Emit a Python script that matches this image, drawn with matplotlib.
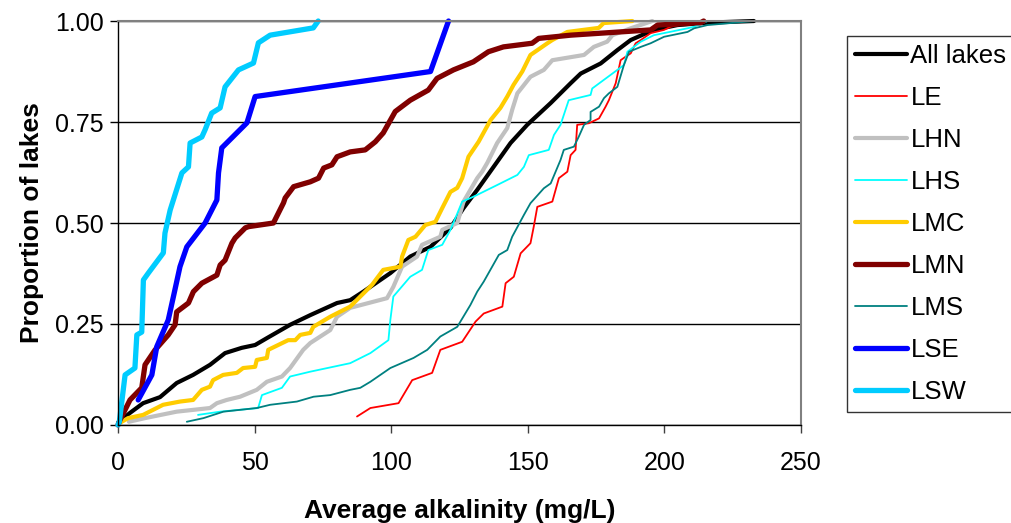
import matplotlib
matplotlib.use("Agg")
import matplotlib.pyplot as plt

plt.rcParams["font.family"] = ["Liberation Sans", "DejaVu Sans"]

# cumulative proportion of lakes vs average alkalinity
all_x = [0, 4.4, 9.2, 15.4, 21.5, 27.5, 33.7, 39.2, 45.3, 50.2, 54.5, 63.0, 70.4, 80.2, 85.0,
         89.8, 99.7, 107.0, 114.4, 121.7, 126.5, 131.5, 137.5, 143.7, 149.8, 158.4, 165.7,
         169.4, 176.7, 182.8, 187.7, 196.1, 204.8, 215.8, 232.8]
all_y = [0.005, 0.030, 0.054, 0.069, 0.104, 0.124, 0.149, 0.178, 0.191, 0.198, 0.215, 0.248,
         0.272, 0.302, 0.309, 0.330, 0.376, 0.417, 0.441, 0.488, 0.537, 0.582, 0.639, 0.698,
         0.743, 0.797, 0.846, 0.870, 0.895, 0.928, 0.953, 0.978, 0.990, 0.996, 1.0]

le_x = [87.5, 92.4, 102.7, 107.7, 115.0, 118.0, 126.0, 130.9, 133.9, 140.7, 141.9, 144.9,
        147.4, 151.0, 152.2, 153.5, 159.0, 161.4, 164.5, 165.7, 167.5, 168.1, 172.4, 176.1,
        178.5, 179.7, 182.2, 184.0, 185.9, 187.7, 189.5, 191.4, 195.0, 199.9, 202.3, 208.5, 214.6]
le_y = [0.021, 0.042, 0.054, 0.111, 0.129, 0.186, 0.206, 0.256, 0.276, 0.293, 0.351, 0.367,
        0.425, 0.450, 0.491, 0.540, 0.553, 0.611, 0.627, 0.668, 0.681, 0.743, 0.747, 0.759,
        0.788, 0.804, 0.846, 0.903, 0.912, 0.920, 0.945, 0.953, 0.970, 0.978, 0.986, 0.994, 1.0]

lhn_x = [4.0, 9.9, 21.5, 33.7, 36.2, 39.8, 44.7, 50.8, 54.5, 60.0, 63.0, 67.8, 70.4, 77.7,
         80.2, 85.0, 98.5, 100.8, 104.0, 109.5, 111.3, 118.0, 118.7, 124.2, 126.5, 131.5,
         133.3, 135.2, 138.8, 142.5, 144.3, 146.2, 151.0, 155.9, 159.0, 170.6, 174.2, 179.1,
         181.0, 187.7, 195.6]
lhn_y = [0.008, 0.017, 0.033, 0.042, 0.054, 0.062, 0.070, 0.087, 0.107, 0.120, 0.141, 0.186,
         0.203, 0.235, 0.268, 0.290, 0.314, 0.342, 0.392, 0.417, 0.446, 0.466, 0.483, 0.500,
         0.553, 0.611, 0.627, 0.649, 0.698, 0.735, 0.780, 0.821, 0.862, 0.879, 0.903, 0.916,
         0.936, 0.949, 0.965, 0.982, 1.0]

lhs_x = [29.3, 37.4, 51.3, 52.7, 60.0, 63.0, 70.4, 85.0, 92.4, 99.0, 99.7, 100.8, 107.0,
         111.3, 113.6, 118.7, 121.7, 123.5, 126.0, 130.1, 138.8, 146.2, 148.6, 150.4, 157.7,
         159.6, 162.0, 165.0, 173.0, 173.6, 185.2, 186.5, 191.4, 196.2, 208.5, 210.9, 215.8]
lhs_y = [0.025, 0.033, 0.042, 0.074, 0.092, 0.120, 0.132, 0.153, 0.178, 0.210, 0.260, 0.318,
         0.367, 0.384, 0.433, 0.446, 0.483, 0.512, 0.553, 0.565, 0.594, 0.619, 0.639, 0.668,
         0.681, 0.718, 0.743, 0.804, 0.817, 0.833, 0.891, 0.924, 0.949, 0.965, 0.982, 0.986, 1.0]

lmc_x = [0.6, 3.7, 9.2, 16.5, 22.7, 27.5, 30.7, 33.7, 34.8, 38.5, 43.5, 45.8, 50.2, 50.8,
         54.5, 55.0, 62.3, 64.9, 66.7, 70.4, 71.5, 77.7, 85.0, 88.7, 93.0, 97.1, 103.4, 104.0,
         106.3, 108.9, 112.5, 116.2, 118.7, 121.7, 124.2, 126.0, 128.3, 132.0, 136.4, 140.0,
         142.5, 144.8, 148.0, 151.0, 157.2, 159.0, 164.5, 176.0, 177.8, 188.3]
lmc_y = [0.005, 0.017, 0.025, 0.050, 0.058, 0.062, 0.087, 0.095, 0.111, 0.124, 0.129, 0.141,
         0.144, 0.161, 0.166, 0.186, 0.210, 0.210, 0.223, 0.228, 0.243, 0.268, 0.293, 0.318,
         0.347, 0.384, 0.392, 0.417, 0.458, 0.466, 0.495, 0.503, 0.537, 0.577, 0.587, 0.611,
         0.664, 0.701, 0.755, 0.785, 0.813, 0.842, 0.875, 0.916, 0.945, 0.953, 0.973, 0.983,
         0.995, 1.0]

lmn_x = [0, 0.7, 4.4, 8.7, 9.9, 13.6, 18.4, 20.9, 21.5, 25.8, 27.6, 30.7, 36.2, 37.4, 39.2,
         41.7, 42.9, 46.6, 47.8, 56.9, 60.6, 61.2, 64.3, 70.4, 73.4, 75.3, 78.3, 80.2, 85.0,
         90.5, 94.2, 97.1, 101.5, 107.0, 113.6, 116.8, 122.8, 130.1, 135.6, 141.1, 151.6,
         154.0, 165.7, 195.0, 197.5, 213.3, 214.4]
lmn_y = [0, 0.012, 0.062, 0.092, 0.149, 0.186, 0.223, 0.248, 0.280, 0.302, 0.330, 0.351,
         0.371, 0.396, 0.408, 0.450, 0.463, 0.488, 0.491, 0.500, 0.550, 0.562, 0.590, 0.602,
         0.611, 0.636, 0.644, 0.664, 0.676, 0.681, 0.701, 0.723, 0.776, 0.804, 0.829, 0.858,
         0.879, 0.899, 0.924, 0.936, 0.945, 0.957, 0.965, 0.978, 0.990, 0.996, 1.0]

lms_x = [25.2, 31.3, 38.6, 50.8, 55.7, 65.5, 71.6, 77.7, 85.0, 88.7, 92.4, 99.7, 108.2,
         113.2, 118.0, 124.2, 129.0, 131.5, 133.9, 139.4, 142.5, 144.3, 148.6, 151.0, 155.9,
         158.4, 162.0, 163.2, 166.9, 168.7, 170.6, 173.0, 173.0, 176.1, 177.9, 179.7, 182.8,
         185.2, 187.1, 191.4, 195.0, 199.9, 208.5, 210.9, 215.8, 232.9]
lms_y = [0.008, 0.017, 0.033, 0.042, 0.050, 0.058, 0.070, 0.074, 0.087, 0.092, 0.107, 0.141,
         0.166, 0.186, 0.219, 0.243, 0.297, 0.330, 0.355, 0.421, 0.433, 0.466, 0.520, 0.549,
         0.586, 0.598, 0.656, 0.681, 0.689, 0.714, 0.743, 0.755, 0.775, 0.788, 0.809, 0.821,
         0.837, 0.891, 0.924, 0.936, 0.945, 0.961, 0.973, 0.982, 0.990, 1.0]

lse_x = [7.4, 12.4, 14.2, 18.4, 20.3, 22.7, 25.2, 31.9, 36.2, 36.8, 38.0, 47.2, 50.2, 114.4, 121.0]
lse_y = [0.062, 0.124, 0.194, 0.260, 0.318, 0.392, 0.441, 0.500, 0.557, 0.624, 0.686, 0.748,
         0.813, 0.875, 1.0]

lsw_x = [0, 0.5, 2.6, 6.2, 6.9, 8.7, 9.3, 11.1, 16.6, 17.2, 19.1, 23.4, 25.8, 26.4, 30.7,
         31.9, 34.3, 37.4, 39.2, 44.1, 49.6, 51.4, 55.7, 71.5, 73.3]
lsw_y = [0, 0.008, 0.124, 0.141, 0.223, 0.230, 0.359, 0.376, 0.426, 0.475, 0.532, 0.624,
         0.639, 0.698, 0.713, 0.731, 0.772, 0.785, 0.837, 0.879, 0.896, 0.946, 0.965, 0.983, 1.0]

series = [
    ("All lakes", all_x, all_y, "#000000", 3.0),
    ("LE", le_x, le_y, "#FF0000", 1.3),
    ("LHN", lhn_x, lhn_y, "#C0C0C0", 3.0),
    ("LHS", lhs_x, lhs_y, "#00FFFF", 1.3),
    ("LMC", lmc_x, lmc_y, "#FFCC00", 3.0),
    ("LMN", lmn_x, lmn_y, "#800000", 3.8),
    ("LMS", lms_x, lms_y, "#008080", 1.3),
    ("LSE", lse_x, lse_y, "#0000FF", 3.8),
    ("LSW", lsw_x, lsw_y, "#00CCFF", 3.8),
]

fig = plt.figure(figsize=(10.11, 5.23), dpi=100)
ax = fig.add_axes([0.1167, 0.1874, 0.6755, 0.7724])

for label, xs, ys, color, lw in series:
    ax.plot(xs, ys, color=color, lw=lw, label=label, solid_capstyle="round",
            solid_joinstyle="round", clip_on=False)

ax.set_xlim(0, 250)
ax.set_ylim(0, 1)
ax.set_xticks([0, 50, 100, 150, 200, 250])
ax.set_yticks([0, 0.25, 0.5, 0.75, 1.0])
ax.set_yticklabels(["0.00", "0.25", "0.50", "0.75", "1.00"])
ax.yaxis.grid(True, color="black", lw=1.0)
ax.set_axisbelow(True)

for side in ["top", "right"]:
    ax.spines[side].set_color("#808080")
    ax.spines[side].set_linewidth(1.5)
for side in ["left", "bottom"]:
    ax.spines[side].set_color("black")
    ax.spines[side].set_linewidth(1.0)

ax.tick_params(axis="x", direction="out", length=6, width=1, labelsize=18, pad=13, color="#404040")
ax.tick_params(axis="y", direction="out", length=6, width=1, labelsize=18, pad=4)

ax.set_xlabel("Average alkalinity (mg/L)", fontsize=19, fontweight="bold", labelpad=17)
ax.set_ylabel("Proportion of lakes", fontsize=19, fontweight="bold", labelpad=8)

leg = fig.legend(loc="upper left", bbox_to_anchor=(0.8378, 0.931), fontsize=18.5,
                 frameon=True, fancybox=False, edgecolor="black", handlelength=2.0,
                 handletextpad=0.15, labelspacing=0.7, borderpad=0.32, borderaxespad=0)
leg.get_frame().set_linewidth(1.0)

fig.savefig("out.png", dpi=100)
